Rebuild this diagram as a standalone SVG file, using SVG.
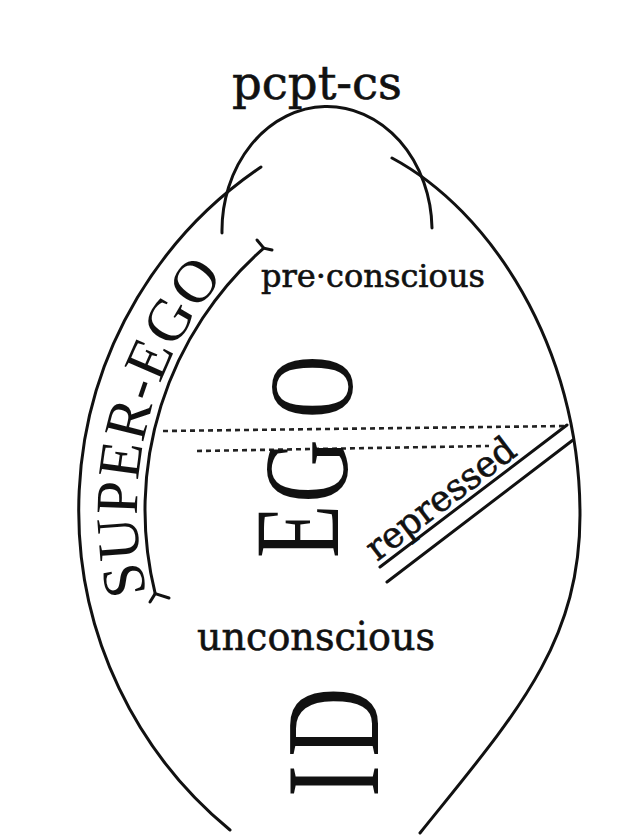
<svg xmlns="http://www.w3.org/2000/svg" width="636" height="837" viewBox="0 0 636 837">
<style>
.ln{fill:none;stroke:#111;stroke-width:3;stroke-linecap:round}
.dot{fill:none;stroke:#222;stroke-width:2.6;stroke-dasharray:5 4}
.lab{font-family:"DejaVu Serif","Liberation Serif",serif;fill:#111;stroke:#111;stroke-width:0.6}
.big{font-family:"Liberation Serif","DejaVu Serif",serif;fill:#111}
</style>
<defs>
<path id="sepath" d="M146.8,593 A356,356 0 0 1 245.7,253.9"/>
</defs>
<rect width="636" height="837" fill="#fff"/>
<g id="connectors">
<path class="ln" d="M261,167 A414,414 0 0 0 230,830"/>
<path class="ln" d="M392,158 C489,210 580,345 580,515 C580,645 514,716 420,833"/>
<path class="ln" d="M222,233 A105,124 0 0 1 432,228"/>
<path class="ln" d="M155.2,593.6 A348,348 0 0 1 263.8,248.1"/>
<path class="ln" d="M257,240 L263.8,248.1 L272,250"/>
<path class="ln" d="M150,602 L155.2,593.6 M155.2,593.6 L169,598"/>
<path class="dot" d="M163,431 L567,426"/>
<path class="dot" d="M197,451 L489,446"/>
<path class="ln" d="M380,567 L567,425"/>
<path class="ln" d="M387,582 L573,440"/>
</g>
<g id="pcpt-cs">
<text class="lab" x="232" y="99" font-size="46" textLength="170" lengthAdjust="spacingAndGlyphs">pcpt-cs</text>
</g>
<g id="preconscious">
<text class="lab" x="261" y="287" font-size="32" textLength="224" lengthAdjust="spacingAndGlyphs">pre·conscious</text>
</g>
<g id="unconscious">
<text class="lab" x="197" y="650" font-size="39" textLength="238" lengthAdjust="spacingAndGlyphs">unconscious</text>
</g>
<g id="repressed">
<text class="lab" transform="translate(377,562) rotate(-37.2)" font-size="36" textLength="178" lengthAdjust="spacingAndGlyphs">repressed</text>
</g>
<g id="super-ego">
<text class="big" font-size="60"><textPath href="#sepath" textLength="338" lengthAdjust="spacing">SUPER-EGO</textPath></text>
</g>
<g id="ego">
<text class="big" font-size="121" transform="translate(338,0) rotate(-90) scale(0.72,1)"><tspan x="-775" y="0">E</tspan><tspan x="-698" y="9">G</tspan><tspan x="-581" y="14">O</tspan></text>
</g>
<g id="id">
<text class="big" font-size="133" transform="translate(378,0) rotate(-90) scale(0.72,1)"><tspan x="-1107" y="0">I</tspan><tspan x="-1051" y="0">D</tspan></text>
</g>
</svg>
